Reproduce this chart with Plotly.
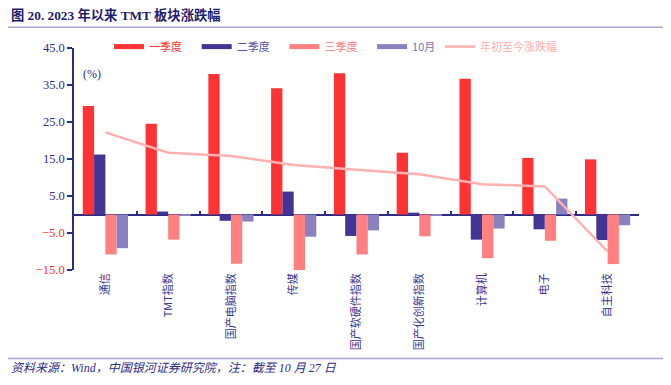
import plotly.graph_objects as go

categories = ["通信", "TMT指数", "国产电脑指数", "传媒", "国产软硬件指数",
              "国产化创新指数", "计算机", "电子", "自主科技"]
q1 = [29.3, 24.5, 38.0, 34.1, 38.2, 16.7, 36.7, 15.3, 14.9]
q2 = [16.2, 0.8, -1.7, 6.2, -5.8, 0.5, -6.8, -4.0, -6.9]
q3 = [-10.8, -6.8, -13.3, -15.6, -10.8, -5.9, -11.8, -7.1, -13.4]
oct_ = [-9.1, -0.3, -1.9, -6.0, -4.3, -0.2, -3.8, 4.3, -2.9]
ytd = [22.2, 16.7, 15.8, 13.4, 12.1, 10.9, 8.2, 7.6, -10.0]
series_names = ["一季度", "二季度", "三季度", "10月", "年初至今涨跌幅"]
ytick_vals = [-15, -5, 5, 15, 25, 35, 45]

C_Q1 = "#FF3333"
C_Q2 = "#433594"
C_Q3 = "#FF8080"
C_OCT = "#8A82C0"
C_YTD = "#FFB0B0"
NAVY = "#2E2B85"
RED = "#FF2A2A"
LAV = "#A9A5D2"

# page body has a default 8px margin; work in page pixels and shift
OFF = 8
PAGE_W, PAGE_H = 671, 385
W, H = PAGE_W - OFF, PAGE_H - OFF
# plot area in page pixels
PL, PR, PT, PB = 74, 639, 48.3, 270
ML, MR, MT, MB = PL - OFF, W - (PR - OFF), PT - OFF, H - (PB - OFF)
PW, PH = W - ML - MR, H - MT - MB

def px_x(p):
    return (p - OFF - ML) / PW

def px_y(p):
    return 1 - (p - OFF - MT) / PH

fig = go.Figure()
bar_sets = [(q1, C_Q1), (q2, C_Q2), (q3, C_Q3), (oct_, C_OCT)]
for (vals, col), name in zip(bar_sets, series_names[:4]):
    fig.add_trace(go.Bar(x=categories, y=vals, name=name, marker_color=col,
                         marker_line_width=0, showlegend=False))
fig.add_trace(go.Scatter(x=categories, y=ytd, mode="lines", showlegend=False,
                         line=dict(color=C_YTD, width=2.5)))

# legend proxies
legend_cols = [C_Q1, C_Q2, C_Q3, C_OCT, C_YTD]
legend_txt = [C_Q1, "#5B56A8", C_Q3, "#7A72B8", C_YTD]
for i, name in enumerate(series_names):
    fig.add_trace(go.Scatter(x=[None], y=[None], mode="lines",
                             legend="legend" if i < 4 else "legend2",
                             name=f"<span style='color:{legend_txt[i]}'>{name}</span>",
                             line=dict(color=legend_cols[i], width=5 if i < 4 else 2.5)))

# boundary ticks on the zero line
n = len(categories)
bounds = [i - 0.5 for i in range(n + 1)]
fig.add_trace(go.Scatter(x=bounds, y=[0] * len(bounds), xaxis="x2", mode="lines",
                         line=dict(width=0), hoverinfo="skip", showlegend=False))

def fmt(v):
    s = f"{abs(v):.1f}"
    return f"<span style='color:{RED}'>\u2212{s}</span>" if v < 0 else f"<span style='color:{NAVY}'>{s}</span>"

ticktext = [fmt(v) for v in ytick_vals]

leg_common = dict(orientation="h", xref="container", yref="container",
                  xanchor="left", yanchor="middle",
                  font=dict(size=11, family="Noto Sans CJK SC"),
                  bgcolor="rgba(0,0,0,0)", itemwidth=30, tracegroupgap=0)
leg_y = 1 - (47.6 - OFF - 1) / H

fig.update_layout(
    width=W, height=H,
    margin=dict(l=ML, r=MR, t=MT, b=MB, autoexpand=False),
    paper_bgcolor="white", plot_bgcolor="white",
    barmode="group", bargap=0.28, bargroupgap=0,
    font=dict(family="Liberation Serif, Noto Sans CJK SC", color=NAVY, size=12),
    xaxis=dict(type="category", showline=False, ticks="", showgrid=False, automargin=False,
               tickangle=-90, tickfont=dict(size=11, color="#3A3592",
                                            family="Noto Sans CJK SC"),
               range=[-0.5, n - 0.5]),
    xaxis2=dict(overlaying="x", anchor="free", position=15 / 60, range=[-0.5, n - 0.5],
                showline=False, ticks="inside", automargin=False,
                tickvals=bounds, ticklen=4, tickcolor=NAVY, tickwidth=1.5,
                showticklabels=False, showgrid=False, zeroline=False),
    yaxis=dict(range=[-15, 45], tickvals=ytick_vals, ticktext=ticktext, automargin=False,
               showline=True, linecolor=NAVY, linewidth=1.5, ticks="outside",
               ticklen=5, tickcolor=NAVY, tickwidth=1.5, showgrid=False,
               zeroline=True, zerolinecolor=NAVY, zerolinewidth=1.5,
               tickfont=dict(size=12.5, family="Liberation Serif")),
    legend=dict(x=(117 - OFF - 8) / W, y=leg_y, entrywidth=42.7, **leg_common),
    legend2=dict(x=(448 - OFF - 8) / W, y=leg_y, **leg_common),
    showlegend=True,
)

fig.add_annotation(text="(%)", xref="paper", yref="paper", x=px_x(81), y=px_y(74),
                   xanchor="left", yanchor="middle", showarrow=False,
                   font=dict(size=12, color=NAVY, family="Liberation Serif"))
fig.add_annotation(text="<b>图 20. 2023 年以来 TMT 板块涨跌幅</b>", xref="paper", yref="paper",
                   x=px_x(9), y=px_y(15.5), xanchor="left", yanchor="middle", showarrow=False,
                   font=dict(size=13.3, color="#1E1E6E", family="Liberation Serif, Noto Sans CJK SC"))
fig.add_annotation(text="<i>资料来源：Wind，中国银河证券研究院，注：截至 10 月 27 日</i>",
                   xref="paper", yref="paper", x=px_x(9), y=px_y(368), xanchor="left",
                   yanchor="middle", showarrow=False,
                   font=dict(size=12, color=NAVY, family="Liberation Serif, Noto Sans CJK SC"))
for yy in (27.5, 358.5):
    fig.add_shape(type="line", xref="paper", yref="paper", x0=px_x(8), x1=px_x(PAGE_W),
                  y0=px_y(yy), y1=px_y(yy), line=dict(color=LAV, width=1.5))

fig.write_html("out.html")
